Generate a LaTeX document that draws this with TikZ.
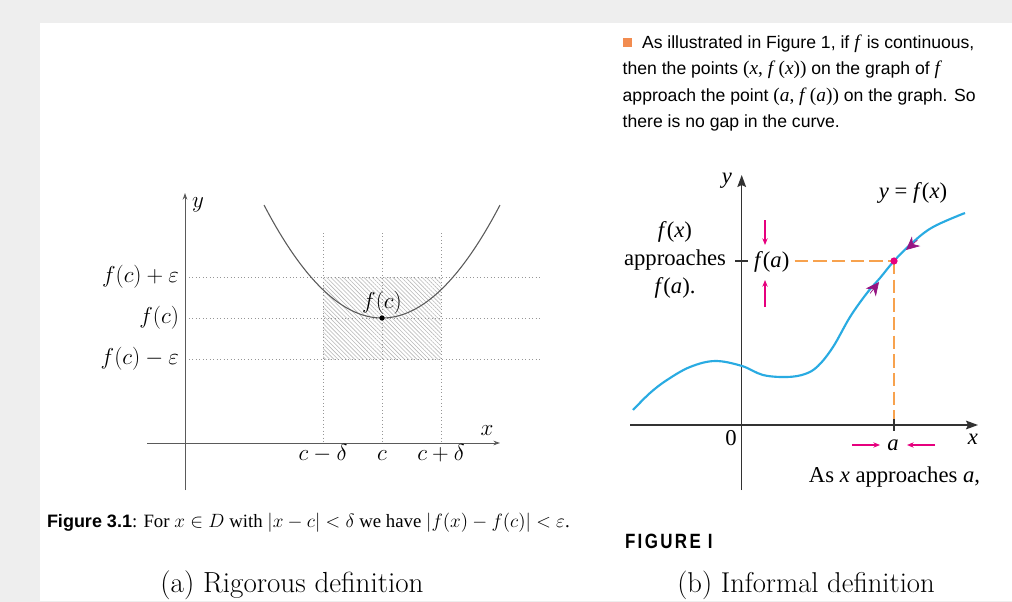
\documentclass[tikz,border=0pt]{standalone}
\usepackage{fontspec}
\usetikzlibrary{patterns.meta,arrows.meta}
\newfontfamily\tnr{Liberation Serif}
\newfontfamily\ari{Liberation Sans}
\newfontfamily\figfont[LetterSpace=14]{Liberation Sans}
\definecolor{bggray}{RGB}{238,238,238}
\definecolor{curvecyan}{RGB}{41,171,226}
\definecolor{pinkmag}{RGB}{230,0,126}
\definecolor{darkmag}{RGB}{150,20,130}
\definecolor{dashorange}{RGB}{247,162,78}
\definecolor{sqorange}{RGB}{242,140,80}
\definecolor{axisdark}{RGB}{50,50,50}
\definecolor{lgray}{RGB}{90,90,90}
\definecolor{dotgray}{RGB}{150,150,150}
\newcommand{\ti}[1]{\textit{#1}}
\newcommand{\tm}[1]{{\tnr\fontsize{14.5}{16}\selectfont #1}}
\tikzset{
 txt/.style={inner sep=0pt, outer sep=0pt},
 lmath/.style={txt, font=\fontsize{16}{19}\selectfont},
 rlab/.style={txt, font=\tnr\fontsize{17}{21}\selectfont},
 para/.style={txt, anchor=base west, font=\ari\fontsize{13.2}{16}\selectfont},
 dotline/.style={dotgray, dotted, line width=0.6pt},
 axisL/.style={lgray, line width=0.7pt, -{Stealth[length=5pt,width=3.5pt]}},
 axisR/.style={axisdark, line width=1.1pt, -{Stealth[length=9pt,width=6.5pt,inset=1.5pt]}},
 odash/.style={dashorange, line width=1.3pt, dash pattern=on 10pt off 4pt},
 pinkarrow/.style={pinkmag, line width=0.8pt, -{Stealth[length=5pt,width=4pt]}},
 curvetip/.style={darkmag, line width=0.5pt, -{Stealth[length=10pt,width=9.5pt,inset=3.2pt]}},
}
\begin{document}
\begin{tikzpicture}[x=0.75pt,y=-0.75pt]
\useasboundingbox (0,0) rectangle (1012,602);
\fill[bggray] (0,0) rectangle (1012,602);
\fill[white] (40,23) rectangle (1012,601);

% ---------------- (a) rigorous definition ----------------
\fill[pattern={Lines[angle=-45,distance=2.2pt,line width=0.45pt]}, pattern color=gray!55] (323,277) rectangle (441,359);
\draw[dotline] (189,277) -- (540,277);
\draw[dotline] (189,318) -- (540,318);
\draw[dotline] (189,359) -- (540,359);
\draw[dotline] (323,233) -- (323,443);
\draw[dotline] (382,233) -- (382,443);
\draw[dotline] (441,233) -- (441,443);
\draw[axisL] (147,443) -- (500,443);
\draw[axisL] (185,490) -- (185,193);
\draw[lgray, line width=0.8pt] plot[domain=-1:1, samples=80] ({382+118*\x},{318-113*\x*\x});
\fill (382,318) circle[radius=2pt];
\node[lmath, anchor=base] (fcdot) at (382,308) {$f(c)$};
\node[lmath, anchor=east] (fcp) at (179,277) {$f(c)+\varepsilon$};
\node[lmath, anchor=east] (fc) at (179,318) {$f(c)$};
\node[lmath, anchor=east] (fcm) at (179,359) {$f(c)-\varepsilon$};
\node[lmath, anchor=base] (cmd) at (323,460) {$c-\delta$};
\node[lmath, anchor=base] (cc) at (382,460) {$c$};
\node[lmath, anchor=base] (cpd) at (441,460) {$c+\delta$};
\node[lmath] (ylab) at (198,205) {$y$};
\node[lmath] (xlab) at (487,431) {$x$};

% ---------------- paragraph ----------------
\fill[sqorange] (623,38) rectangle (632,47);
\node[para] (l1) at (642,49) {As illustrated in Figure 1, if \tm{\ti{f}} is continuous,};
\node[para] (l2) at (622.7,75) {then the points \tm{(\ti{x}, \ti{f}\,(\ti{x}))} on the graph of \tm{\ti{f}}};
\node[para] (l3) at (622.7,101.5) {approach the point \tm{(\ti{a}, \ti{f}\,(\ti{a}))} on the graph. So};
\node[para] (l4) at (622.7,128) {there is no gap in the curve.};

% ---------------- (b) informal definition ----------------
\draw[axisR] (630,425) -- (978,425);
\draw[axisR] (741.7,490) -- (741.7,175);
\draw[curvecyan, line width=1.6pt] plot[smooth, tension=0.6] coordinates {
 (633,410) (650,393) (667,380) (690,367) (715,361) (742,366) (763,375) (787,377)
 (805,374) (818,366) (833,347) (850,317) (867,293) (880,278) (894,261)
 (912,243) (933,227) (965,213)};
\coordinate (P) at (894,261);
\coordinate (Pa) at (894,425);
\node[rlab, anchor=west] (fa) at (754,262) {\ti{f}(\ti{a})};
\draw[odash, shorten <=4pt] (fa.east |- P) -- (P);
\draw[odash] (P) -- (Pa);
\draw[axisdark, line width=1.1pt] (735,261) -- (748,261);
\draw[axisdark, line width=1.1pt] (894,419) -- (894,431);
\fill[pinkmag] (P) circle[radius=2.7pt];
\coordinate (t1s) at (870,293.5) ; \coordinate (t1e) at (879,282);
\coordinate (t2s) at (917.5,240) ; \coordinate (t2e) at (906,250);
\draw[curvetip] (t1s) -- (t1e);
\draw[curvetip] (t2s) -- (t2e);
\coordinate (u1) at (765,220); \coordinate (u2) at (765,245);
\coordinate (d1) at (765,307); \coordinate (d2) at (765,280);
\coordinate (h1) at (852,445); \coordinate (h2) at (880,445);
\coordinate (k1) at (935,445); \coordinate (k2) at (907,445);
\draw[pinkarrow] (u1) -- (u2);
\draw[pinkarrow] (d1) -- (d2);
\draw[pinkarrow] (h1) -- (h2);
\draw[pinkarrow] (k1) -- (k2);
\node[rlab, align=center] (appr) at (675,260) {\ti{f}(\ti{x})\\approaches\\\ti{f}(\ti{a}).};
\node[rlab] (yR) at (727,181) {\ti{y}};
\node[rlab] (xR) at (973,439) {\ti{x}};
\node[rlab] (zero) at (731,438) {0};
\node[rlab] (aR) at (893,445) {\ti{a}};
\node[rlab] (yfx) at (913,193) {\ti{y} = \ti{f}(\ti{x})};
\node[rlab] (asx) at (894.5,477) {As \ti{x} approaches \ti{a},};

% ---------------- captions ----------------
\node[txt, anchor=base west] (cap) at (47,527) {{\ari\bfseries\fontsize{13.5}{16}\selectfont Figure 3.1}{\tnr\fontsize{14.1}{16}\selectfont: For $x\in D$ with $|x-c|<\delta$ we have $|f(x)-f(c)|<\varepsilon$.}};
\node[txt, anchor=base west] (figI) at (625,548) {\scalebox{0.82}[1]{\figfont\bfseries\fontsize{15.5}{17}\selectfont FIGURE I}};
\node[txt, anchor=base, font=\fontsize{21.8}{26}\selectfont] (suba) at (292,592) {(a) Rigorous definition};
\node[txt, anchor=base, font=\fontsize{21.5}{26}\selectfont] (subb) at (806,592) {(b) Informal definition};
\end{tikzpicture}
\end{document}
